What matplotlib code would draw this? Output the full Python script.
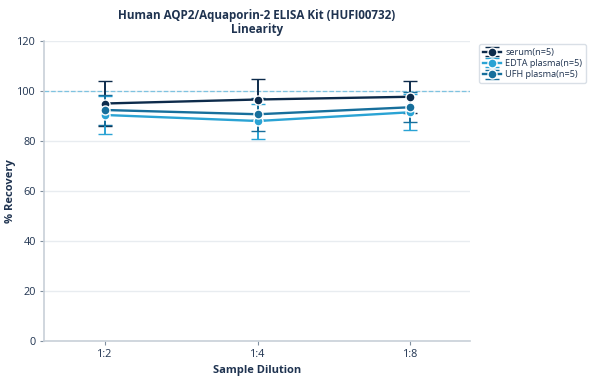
import matplotlib
matplotlib.use('Agg')
import matplotlib.pyplot as plt

plt.rcParams['font.family'] = ['Open Sans', 'DejaVu Sans']

# data
dilutions = ['1:2', '1:4', '1:8']
series_names = ['serum(n=5)', 'EDTA plasma(n=5)', 'UFH plasma(n=5)']
serum = [95.0, 96.6, 97.7]
serum_err = [9.0, 8.3, 6.3]
edta = [90.4, 88.0, 91.5]
edta_err = [7.6, 7.0, 7.2]
ufh = [92.4, 90.7, 93.5]
ufh_err = [6.0, 6.5, 6.0]

colors = ['#0d2b4b', '#2aa3d4', '#176f9c']
text_color = '#1f3350'

fig = plt.figure(figsize=(5.9, 3.8), dpi=100)
ax = fig.add_axes([44 / 590, 39 / 380, 426 / 590, 300 / 380])

x = list(range(len(dilutions)))
for vals, errs, col, name in zip([serum, edta, ufh], [serum_err, edta_err, ufh_err],
                                 colors, series_names):
    ax.errorbar(x, vals, yerr=errs, color=col, lw=1.7, marker='o', ms=6.5,
                mec='white', mew=1.0, capsize=5, capthick=1.4, elinewidth=1.4,
                label=name, zorder=3)

ax.axhline(100, color='#7ec3e0', ls='--', lw=0.9, zorder=2)

ax.set_xlim(-0.4, 2.39)
ax.set_ylim(0, 120)
ax.set_yticks(range(0, 121, 20))
ax.set_xticks(x)
ax.set_xticklabels(dilutions)
ax.grid(axis='y', color='#e8ecf0', lw=1)
ax.set_axisbelow(True)

for s in ['top', 'right']:
    ax.spines[s].set_visible(False)
for s in ['left', 'bottom']:
    ax.spines[s].set_color('#c8d0d8')
    ax.spines[s].set_linewidth(1.2)
ax.tick_params(colors='#8090a0', labelcolor=text_color, labelsize=7.8, length=3, pad=3)

ax.set_xlabel('Sample Dilution', fontsize=8, fontweight='bold', color=text_color, labelpad=3)
ax.set_ylabel('% Recovery', fontsize=8, fontweight='bold', color=text_color)
ax.yaxis.set_label_coords(-0.066, 0.5)
ax.set_title('Human AQP2/Aquaporin-2 ELISA Kit (HUFI00732)\nLinearity', fontsize=8.4,
             fontweight='bold', color=text_color, pad=6, linespacing=1.1)

leg = ax.legend(loc='upper left', bbox_to_anchor=(1.01, 1.005), fontsize=6.6,
                frameon=True, borderpad=0.4, labelspacing=0.25, handlelength=2.0,
                handletextpad=0.5, fancybox=True)
leg.get_frame().set_edgecolor('#d0d8e0')
for t in leg.get_texts():
    t.set_color(text_color)

fig.savefig('out.png', dpi=100)
